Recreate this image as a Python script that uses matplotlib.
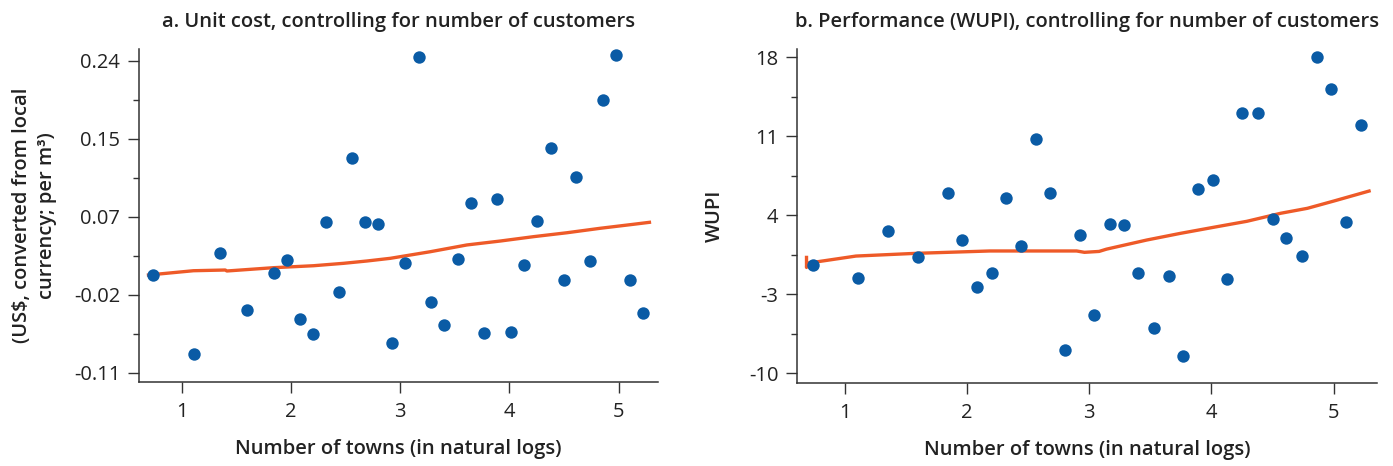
import numpy as np
import matplotlib.pyplot as plt

plt.rcParams['font.family'] = ['Open Sans', 'DejaVu Sans']

# number of towns (natural logs), same for both panels
towns = [0.74, 1.11, 1.35, 1.60, 1.84, 1.96, 2.08, 2.20, 2.32, 2.44, 2.56,
         2.68, 2.80, 2.92, 3.04, 3.17, 3.28, 3.40, 3.53, 3.65, 3.77, 3.89,
         4.01, 4.13, 4.25, 4.38, 4.50, 4.61, 4.74, 4.86, 4.98, 5.10, 5.22]

cost = [-0.0003, -0.0894, 0.0244, -0.0393, 0.0016, 0.0169, -0.0501, -0.0662,
        0.0596, -0.0198, 0.1303, 0.0596, 0.0573, -0.0770, 0.0135, 0.2437,
        -0.0306, -0.0564, 0.0173, 0.0805, -0.0651, 0.0850, -0.0647, 0.0113,
        0.0607, 0.1423, -0.0063, 0.1090, 0.0154, 0.1958, 0.2460, -0.0063,
        -0.0426]

wupi = [-0.36, -1.54, 2.64, 0.29, 5.98, 1.85, -2.39, -1.10, 5.50, 1.26, 10.78,
        5.98, -7.97, 2.23, -4.81, 3.23, 3.15, -1.10, -6.02, -1.36, -8.50, 6.36,
        7.10, -1.66, 13.05, 13.05, 3.65, 2.00, 0.40, 18.06, 15.17, 3.38, 11.99]

# smoothed fits
fit_x_a = [0.694, 1.106, 1.397, 1.412, 1.839, 2.205, 2.480, 2.694, 2.908,
           3.091, 3.274, 3.610, 3.915, 4.220, 4.526, 4.831, 5.136, 5.282]
fit_y_a = [-0.0004, 0.0044, 0.0052, 0.0041, 0.0078, 0.0100, 0.0127, 0.0153,
           0.0183, 0.0220, 0.0257, 0.0333, 0.0377, 0.0426, 0.0470, 0.0520,
           0.0565, 0.0587]

fit_x_b = [0.685, 0.685, 0.69, 1.09, 1.58, 2.185, 2.896, 2.96, 3.08, 3.14,
           3.47, 3.745, 4.018, 4.29, 4.566, 4.785, 5.003, 5.29]
fit_y_b = [0.27, -0.62, -0.25, 0.39, 0.63, 0.84, 0.84, 0.72, 0.80, 1.00,
           1.81, 2.40, 2.94, 3.47, 4.18, 4.62, 5.27, 6.15]

xticks = [1, 2, 3, 4, 5]
yticks_a = ['-0.11', '-0.02', '0.07', '0.15', '0.24']
yticks_b = ['-10', '-3', '4', '11', '18']

blue = '#0A5BA5'
orange = '#EE5A28'
dark = '#333333'
fs = 14.5

fig = plt.figure(figsize=(13.93, 4.66), dpi=100)
ax1 = fig.add_axes([0.1000, 0.1809, 0.3721, 0.7133])
ax2 = fig.add_axes([0.5724, 0.1788, 0.4163, 0.7154])


def style(ax, lo, hi, labels, ylim):
    pos = np.linspace(lo, hi, len(labels))
    ax.set_yticks(pos)
    ax.set_yticklabels(labels)
    ax.set_yticks((pos[:-1] + pos[1:]) / 2, minor=True)
    ax.set_xticks(xticks)
    ax.set_xlim(0.61, 5.357)
    ax.set_ylim(*ylim)
    for s in ['top', 'right']:
        ax.spines[s].set_visible(False)
    for s in ['left', 'bottom']:
        ax.spines[s].set_color(dark)
        ax.spines[s].set_linewidth(1.1)
    ax.tick_params(axis='both', which='major', direction='out', length=7.7,
                   width=1.0, color=dark, labelsize=fs, labelcolor='#222222')
    ax.tick_params(axis='y', which='major', pad=6)
    ax.tick_params(axis='x', which='major', pad=7)
    ax.tick_params(axis='y', which='minor', direction='out', length=4,
                   width=1.0, color=dark)
    ax.set_xlabel('Number of towns (in natural logs)', fontsize=fs,
                  fontweight='semibold', color='#222222', labelpad=12)


ax1.scatter(towns, cost, s=80, color=blue, zorder=3, linewidths=0)
ax1.plot(fit_x_a, fit_y_a, color=orange, lw=2.4, zorder=2)
style(ax1, -0.11, 0.24, yticks_a, (-0.1201, 0.2528))
ax1.set_title('a. Unit cost, controlling for number of customers',
              fontsize=fs, fontweight='semibold', color='#222222', pad=16)
ax1.set_ylabel('(US$, converted from local\ncurrency; per m³)', fontsize=fs,
               fontweight='semibold', color='#222222', linespacing=1.3)
ax1.yaxis.set_label_coords(-0.159, 0.5)

ax2.scatter(towns, wupi, s=80, color=blue, zorder=3, linewidths=0)
ax2.plot(fit_x_b, fit_y_b, color=orange, lw=2.4, zorder=2)
style(ax2, -10, 18, yticks_b, (-10.83, 18.71))
ax2.set_title('b. Performance (WUPI), controlling for number of customers',
              fontsize=fs, fontweight='semibold', color='#222222', pad=16)
ax2.set_ylabel('WUPI', fontsize=fs, fontweight='semibold', color='#222222')
ax2.yaxis.set_label_coords(-0.1247, 0.5)

plt.savefig('out.png', dpi=100)
